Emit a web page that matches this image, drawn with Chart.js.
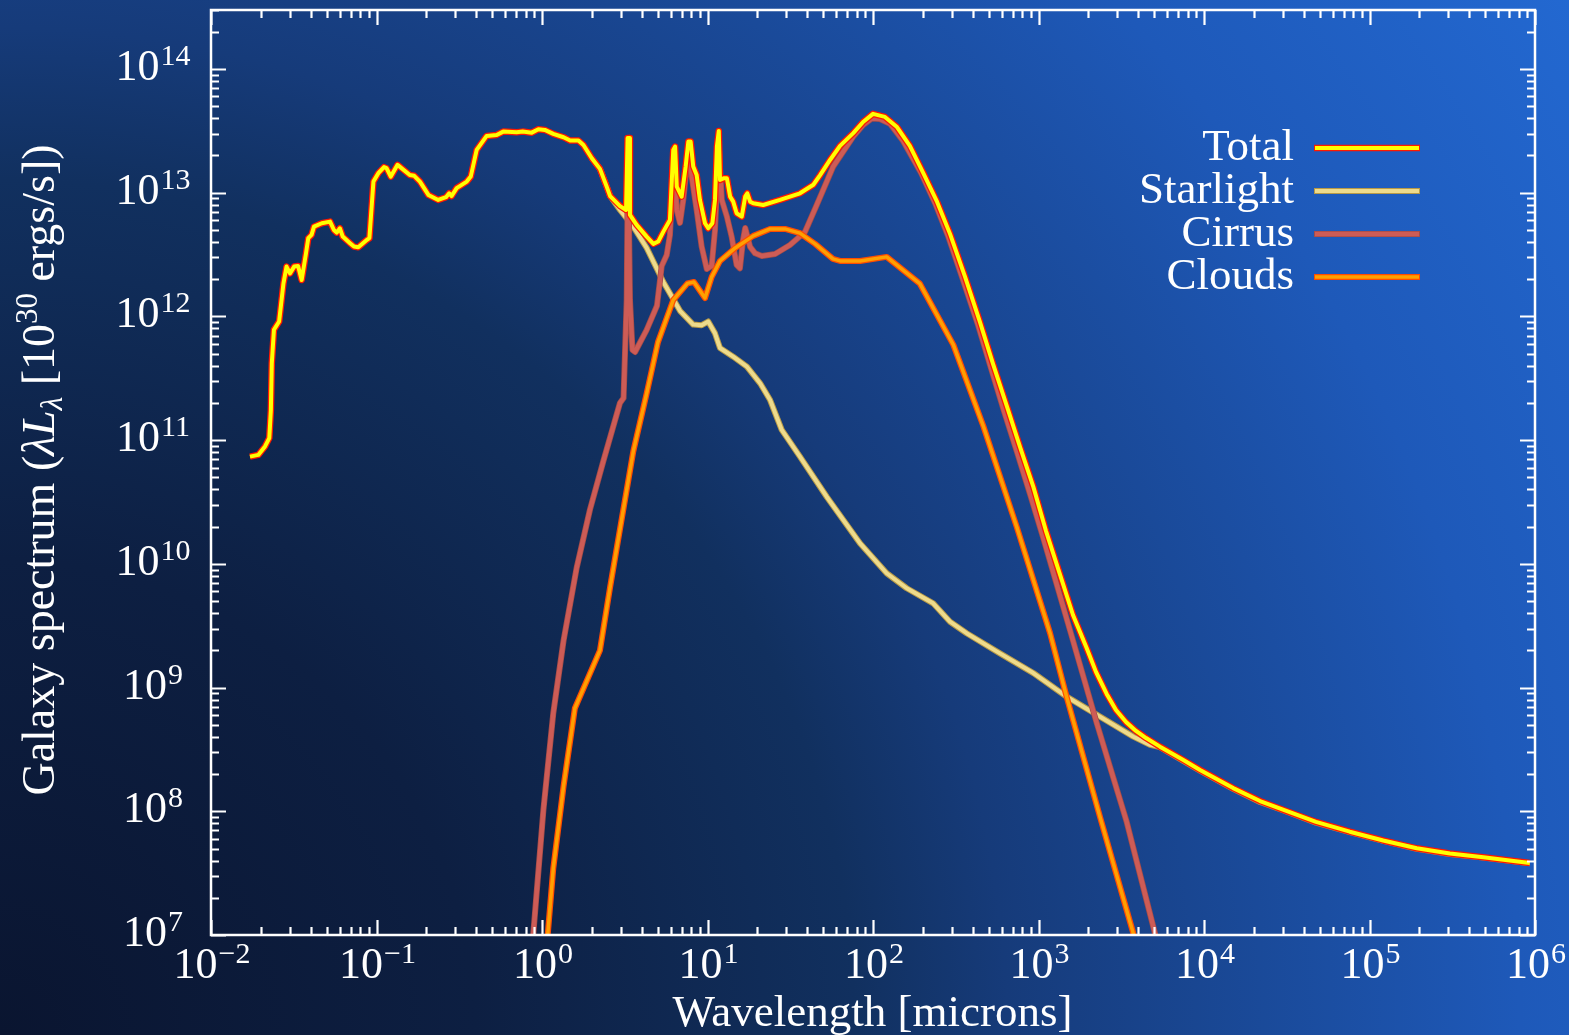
<!DOCTYPE html>
<html><head><meta charset="utf-8">
<script src="https://cdn.jsdelivr.net/npm/chart.js@4.4.0/dist/chart.umd.min.js"></script>
<style>html,body{margin:0;padding:0;overflow:hidden;background:#0b1731}canvas{display:block}</style>
</head><body>
<canvas id="c" width="1569" height="1035"></canvas>
<script>
// ---- Data (wavelength in microns, luminosity in 1e30 erg/s) ----
const totalWavelength = [0.0172,0.0193,0.0212,0.0225,0.0230,0.0233,0.0240,0.0258,0.0274,0.0286,0.0300,0.0318,0.0336,0.0353,0.0375,0.0387,0.0405,0.0419,0.0467,0.0524,0.0553,0.0575,0.0601,0.0625,0.0692,0.0731,0.0776,0.0873,0.0906,0.0958,0.1026,0.111,0.115,0.122,0.134,0.159,0.169,0.183,0.206,0.236,0.263,0.275,0.284,0.305,0.351,0.371,0.403,0.463,0.532,0.583,0.703,0.764,0.867,0.951,1.04,1.17,1.35,1.48,1.66,1.78,2.0,2.24,2.46,2.58,2.96,3.22,3.29,3.36,3.40,3.73,4.29,4.71,5.04,5.41,5.93,6.21,6.37,6.52,6.98,7.38,7.66,7.91,8.2,8.6,9.0,9.66,10.1,10.7,11.1,11.4,11.7,11.9,12.6,13.1,13.7,14.3,15.0,16.1,16.9,17.4,18.1,18.9,21.7,27.4,36.2,43.6,47.9,55.0,63.2,76,87.1,100,118,139,167,201,244,292,360,443,531,643,773,931,1109,1349,1616,1954,2225,2582,2939,3381,3882,4463,5420,7500,9460,1.5e4,2.18e4,3.0e4,4.75e4,7.6e4,1.21e5,1.93e5,3.06e5,4.87e5,9.3e5];
const totalLuminosity = [7.36e10,7.6e10,8.9e10,1.04e11,1.75e11,4.2e11,7.8e11,9.1e11,1.85e12,2.53e12,2.23e12,2.53e12,2.56e12,1.97e12,3.24e12,4.29e12,4.56e12,5.32e12,5.67e12,5.84e12,5.0e12,4.76e12,5.16e12,4.42e12,3.91e12,3.67e12,3.62e12,4.15e12,4.29e12,1.23e13,1.44e13,1.61e13,1.58e13,1.35e13,1.68e13,1.39e13,1.37e13,1.23e13,9.6e12,8.75e12,9.2e12,9.9e12,9.4e12,1.09e13,1.23e13,1.35e13,2.22e13,2.88e13,2.93e13,3.12e13,3.08e13,3.12e13,3.06e13,3.26e13,3.22e13,2.99e13,2.81e13,2.64e13,2.64e13,2.43e13,1.90e13,1.56e13,1.12e13,9.4e12,7.8e12,7.26e12,2.77e13,2.77e13,6.62e12,5.5e12,4.42e12,3.86e12,4.03e12,4.85e12,6.03e12,2.22e13,2.36e13,1.12e13,9.3e12,1.63e13,2.59e13,2.59e13,1.63e13,1.39e13,8.75e12,5.67e12,5.16e12,5.67e12,8.75e12,2.36e13,3.16e13,1.27e13,1.31e13,1.31e13,9.3e12,8.47e12,6.83e12,6.41e12,9.3e12,9.9e12,8.47e12,8.22e12,7.96e12,8.75e12,9.9e12,1.16e13,1.39e13,1.84e13,2.39e13,3.03e13,3.73e13,4.34e13,4.10e13,3.42e13,2.39e13,1.45e13,8.43e12,4.65e12,2.09e12,9.0e11,4.13e11,1.89e11,8.81e10,4.19e10,1.85e10,8.2e9,3.86e9,2.09e9,1.34e9,8.88e8,6.59e8,5.27e8,4.46e8,3.91e8,3.33e8,2.6e8,2.16e8,1.54e8,1.21e8,1.03e8,8.2e7,6.84e7,5.81e7,5.02e7,4.56e7,4.25e7,3.82e7];

const starlightWavelength = [2.0,2.24,2.46,2.58,2.96,3.56,4.29,5.41,6.82,8.2,9.22,10.1,11.1,11.9,14.3,17.3,20.8,23.9,28.1,36.2,52.5,83.4,121,160,231,292,368,585,931,1480,2354,3741,4721,5420,7500,9460,1.5e4,2.18e4,3.0e4,4.75e4,7.6e4,1.21e5,1.93e5,3.06e5,4.87e5,9.3e5];
const starlightLuminosity = [1.90e13,1.56e13,1.12e13,9.4e12,7.26e12,5.32e12,3.58e12,1.90e12,1.11e12,8.6e11,8.5e11,9.1e11,7.3e11,5.56e11,4.73e11,3.93e11,2.88e11,2.11e11,1.21e11,7.36e10,3.49e10,1.47e10,8.4e9,6.35e9,4.8e9,3.41e9,2.75e9,1.89e9,1.31e9,8.44e8,5.82e8,4.01e8,3.44e8,3.30e8,2.56e8,2.13e8,1.52e8,1.19e8,1.02e8,8.1e7,6.78e7,5.76e7,4.98e7,4.52e7,4.22e7,3.8e7];

const cirrusWavelength = [0.875,1.02,1.17,1.35,1.62,1.95,2.35,2.96,3.11,3.25,3.31,3.40,3.52,3.65,4.29,4.95,5.29,5.67,5.93,6.28,6.52,6.82,7.14,7.67,8.03,8.6,9.22,9.9,10.6,11.1,11.7,12.2,13.1,14.0,15.0,15.7,16.4,16.9,18.1,19.4,21.3,25.6,31.5,38.8,45.7,57.5,76,87.1,98.6,110,127,152,195,237,284,350,431,516,619,741,889,1064,1276,1549,2248,3412,5058,5272];
const cirrusLuminosity = [8.3e6,1.03e8,6.2e8,2.4e9,9.3e9,2.75e10,6.8e10,2.0e11,2.19e11,1.36e12,2.22e13,1.36e12,5.36e11,5.16e11,7.78e11,1.22e12,2.56e12,3.14e12,4.56e12,2.02e13,7.26e12,5.7e12,8.75e12,2.22e13,1.35e13,7.26e12,3.67e12,2.42e12,2.56e12,5.0e12,2.43e13,8.75e12,6.41e12,4.4e12,2.61e12,2.45e12,4.15e12,5.19e12,3.65e12,3.24e12,3.08e12,3.2e12,3.78e12,4.82e12,7.96e12,1.63e13,2.84e13,3.53e13,3.99e13,3.95e13,3.6e13,2.62e13,1.45e13,8.27e12,4.48e12,1.97e12,8.54e11,3.83e11,1.72e11,8.03e10,3.67e10,1.65e10,7.14e9,2.92e9,5.17e8,8.2e7,1.03e7,8.3e6];

const cloudsWavelength = [1.07,1.17,1.35,1.58,2.24,2.58,2.96,3.56,4.29,5.02,6.21,7.57,8.28,9.66,10.6,11.9,14.7,18.9,23.9,29.4,36.2,44.7,57.3,63.2,83.4,121,192,306,464,738,1175,1480,2354,3741,3882];
const cloudsLuminosity = [8.3e6,3.46e7,1.6e8,6.8e8,2.0e9,6.5e9,1.91e10,8.1e10,2.39e11,6.2e11,1.36e12,1.85e12,1.90e12,1.41e12,2.09e12,2.81e12,3.58e12,4.48e12,5.1e12,5.1e12,4.71e12,3.86e12,2.92e12,2.81e12,2.81e12,3.03e12,1.84e12,5.89e11,1.30e11,2.0e10,2.75e9,8.4e8,9.0e7,1.03e7,8.3e6];

const seriesNames = ['Total','Starlight','Cirrus','Clouds'];
const xTickExponents = [-2,-1,0,1,2,3,4,5,6];
const yTickExponents = [7,8,9,10,11,12,13,14];
const xAxisTitle = 'Wavelength [microns]';

// ---- Styles ----
const FONT = '"Liberation Serif", "Times New Roman", serif';
const styles = {
  Total:     {core:'#ffff00', edge:'#ff1800', coreW:4,   edgeW:6.5},
  Starlight: {core:'#eedb8c', edge:'#b89a48', coreW:4,   edgeW:6},
  Cirrus:    {core:'#cd5c56', edge:'#a44c48', coreW:4.5, edgeW:6},
  Clouds:    {core:'#ffa000', edge:'#ff4c00', coreW:3.5, edgeW:6}
};
const seriesData = {
  Total: [totalWavelength, totalLuminosity],
  Starlight: [starlightWavelength, starlightLuminosity],
  Cirrus: [cirrusWavelength, cirrusLuminosity],
  Clouds: [cloudsWavelength, cloudsLuminosity]
};
const drawRank = {Total:0, Clouds:1, Cirrus:2, Starlight:3}; // lower = on top

function pts(xs, ys){ return xs.map((x,i)=>({x:x, y:ys[i]})); }

const datasets = [];
seriesNames.forEach(name=>{
  const st = styles[name];
  const d = pts(seriesData[name][0], seriesData[name][1]);
  datasets.push({label:name+' edge', data:d, borderColor:st.edge, borderWidth:st.edgeW, order:drawRank[name]*2+1,
    showLine:true, pointRadius:0, fill:false, tension:0, borderJoinStyle:'round', clip:0});
  datasets.push({label:name, data:d, borderColor:st.core, borderWidth:st.coreW, order:drawRank[name]*2,
    showLine:true, pointRadius:0, fill:false, tension:0, borderJoinStyle:'round', clip:0});
});

const bgPlugin = {
  id:'bg',
  beforeDraw(chart){
    const ctx = chart.ctx, W = chart.width, H = chart.height;
    const g = ctx.createRadialGradient(0, H, 0, 0, H, 1900);
    g.addColorStop(0, '#0a1530');
    g.addColorStop(0.25, '#0d1f42');
    g.addColorStop(0.45, '#11305f');
    g.addColorStop(0.53, '#163b7a');
    g.addColorStop(0.8, '#1e59b9');
    g.addColorStop(1, '#2369d2');
    ctx.save(); ctx.fillStyle = g; ctx.fillRect(0,0,W,H); ctx.restore();
  }
};

function powLabel(ctx, exp, x, y, align){
  const base = '10', sup = (exp<0 ? '\u2212'+(-exp) : String(exp));
  ctx.font = '44px ' + FONT; const wb = ctx.measureText(base).width;
  ctx.font = '30px ' + FONT; const ws = ctx.measureText(sup).width;
  const total = wb + 1 + ws;
  let left = align==='center' ? x - total/2 : x - total;
  ctx.textAlign = 'left'; ctx.textBaseline = 'alphabetic';
  ctx.font = '44px ' + FONT; ctx.fillText(base, left, y);
  ctx.font = '30px ' + FONT; ctx.fillText(sup, left + wb + 1, y - 15);
}

const axesPlugin = {
  id:'axesDraw',
  afterDraw(chart){
    const ctx = chart.ctx, a = chart.chartArea, xs = chart.scales.x, ys = chart.scales.y;
    ctx.save();
    ctx.strokeStyle = '#ffffff'; ctx.fillStyle = '#ffffff';
    ctx.lineWidth = 2.5;
    ctx.strokeRect(a.left, a.top, a.right-a.left, a.bottom-a.top);
    ctx.lineWidth = 2.2;
    ctx.beginPath();
    for (let e = xTickExponents[0]; e <= xTickExponents[xTickExponents.length-1]; e++){
      for (let m = 1; m <= 9; m++){
        const v = m*Math.pow(10,e);
        if (v > xs.max*1.0001) break;
        const px = Math.round(xs.getPixelForValue(v)) + 0.5;
        const len = m===1 ? 15 : 8;
        ctx.moveTo(px, a.bottom); ctx.lineTo(px, a.bottom-len);
        ctx.moveTo(px, a.top); ctx.lineTo(px, a.top+len);
      }
    }
    for (let e = yTickExponents[0]; e <= yTickExponents[yTickExponents.length-1]; e++){
      for (let m = 1; m <= 9; m++){
        const v = m*Math.pow(10,e);
        if (v > ys.max) break;
        const py = Math.round(ys.getPixelForValue(v)) + 0.5;
        const len = m===1 ? 15 : 8;
        ctx.moveTo(a.left, py); ctx.lineTo(a.left+len, py);
        ctx.moveTo(a.right, py); ctx.lineTo(a.right-len, py);
      }
    }
    ctx.stroke();

    // tick labels
    xTickExponents.forEach(e=>{
      const px = xs.getPixelForValue(Math.pow(10,e));
      powLabel(ctx, e, px+1, a.bottom+43, 'center');
    });
    yTickExponents.forEach(e=>{
      const py = ys.getPixelForValue(Math.pow(10,e));
      powLabel(ctx, e, 153, py+11, 'center');
    });

    // x title
    ctx.font = '45px ' + FONT; ctx.textAlign = 'center'; ctx.textBaseline = 'alphabetic';
    ctx.fillText(xAxisTitle, (a.left+a.right)/2 - 0.5, 1026);

    // y title (rotated)
    const segs = [
      {t:'Galaxy spectrum (', f:'46px '+FONT, dy:0},
      {t:'\u03BBL', f:'italic 46px '+FONT, dy:0},
      {t:'\u03BB', f:'italic 31px '+FONT, dy:8},
      {t:' [10', f:'46px '+FONT, dy:0},
      {t:'30', f:'31px '+FONT, dy:-17},
      {t:' ergs/s])', f:'46px '+FONT, dy:0}
    ];
    let tw = 0;
    segs.forEach(s=>{ ctx.font = s.f; s.w = ctx.measureText(s.t).width; tw += s.w; });
    ctx.translate(54, 470); ctx.rotate(-Math.PI/2);
    ctx.textAlign = 'left';
    let cx = -tw/2;
    segs.forEach(s=>{ ctx.font = s.f; ctx.fillText(s.t, cx, s.dy); cx += s.w; });
    ctx.restore();

    // legend
    ctx.save();
    const rowY = [148, 191, 234, 277];
    seriesNames.forEach((name,i)=>{
      const st = styles[name], y = rowY[i];
      ctx.font = '45px ' + FONT; ctx.fillStyle = '#ffffff'; ctx.textAlign = 'right'; ctx.textBaseline = 'alphabetic';
      ctx.fillText(name, 1294, y+12);
      ctx.lineCap = 'butt';
      ctx.strokeStyle = st.edge; ctx.lineWidth = st.edgeW;
      ctx.beginPath(); ctx.moveTo(1314, y); ctx.lineTo(1420, y); ctx.stroke();
      ctx.strokeStyle = st.core; ctx.lineWidth = st.coreW;
      ctx.beginPath(); ctx.moveTo(1315, y); ctx.lineTo(1419, y); ctx.stroke();
    });
    ctx.restore();
  }
};

new Chart(document.getElementById('c'), {
  type:'scatter',
  data:{datasets:datasets},
  options:{
    responsive:false, animation:false, devicePixelRatio:1, events:[],
    layout:{padding:{left:211, right:34, top:10, bottom:100}},
    plugins:{legend:{display:false}, tooltip:{enabled:false}, title:{display:false}},
    scales:{
      x:{type:'logarithmic', min:1e-2, max:1e6, display:false},
      y:{type:'logarithmic', min:1e7, max:3e14, display:false}
    }
  },
  plugins:[bgPlugin, axesPlugin]
});
</script>
</body></html>
